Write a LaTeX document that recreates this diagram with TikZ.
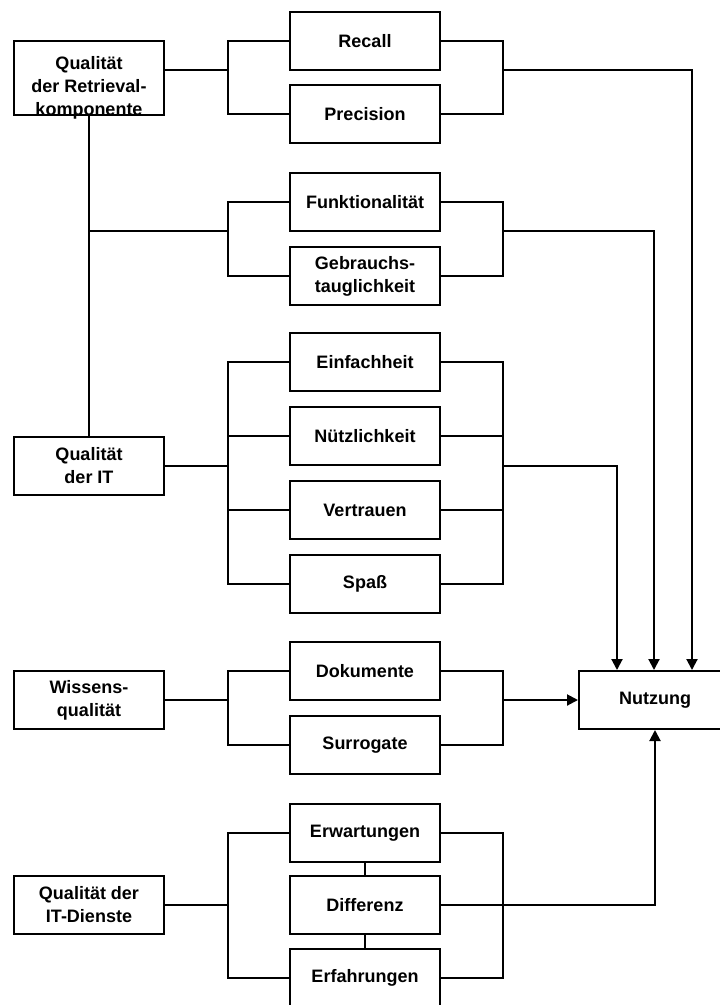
\documentclass[tikz,border=0pt]{standalone}
\usepackage{fontspec}
\setmainfont{Liberation Sans}
\usetikzlibrary{arrows.meta}
\begin{document}
\begin{tikzpicture}[x=1pt,y=-1pt,
  txt/.style={font=\bfseries\fontsize{18}{23}\selectfont, align=center, inner sep=0pt},
  box/.style={txt, draw, line width=2pt, minimum width=150pt, minimum height=58pt},
  wire/.style={line width=2pt, line join=miter},
  arr/.style={wire, -{Triangle[length=11pt,width=11pt]}}]
\useasboundingbox (0,0) rectangle (720,1005);
\clip (0,0) rectangle (720,1005);

% left column: the quality dimensions
\node[box, minimum height=74pt] (qr) at (89,78) {};
\node[txt] (qrtext) at (89,88) {Qualität\\der Retrieval-\\komponente};
\node[box] (qit) at (89,466) {Qualität\\der IT};
\node[box] (wq) at (89,700) {Wissens-\\qualität};
\node[box] (qitd) at (89,905) {Qualität der\\IT-Dienste};

% middle column: the individual factors
\node[box] (recall) at (365,41) {Recall};
\node[box] (prec) at (365,114) {Precision};
\node[box] (funk) at (365,202) {Funktionalität};
\node[box] (gebr) at (365,276) {Gebrauchs-\\tauglichkeit};
\node[box] (einf) at (365,362) {Einfachheit};
\node[box] (nuetz) at (365,436) {Nützlichkeit};
\node[box] (vertr) at (365,510) {Vertrauen};
\node[box] (spass) at (365,584) {Spaß};
\node[box] (doku) at (365,671) {Dokumente};
\node[box] (surr) at (365,745) {Surrogate};
\node[box] (erw) at (365,833) {Erwartungen};
\node[box] (diff) at (365,905) {Differenz};
\node[box] (erf) at (365,978) {Erfahrungen};

% target
\node[box, minimum width=152pt] (nutz) at (655,700) {Nutzung};

% left brackets
\draw[wire] (qr.east |- 0,70) -- (228,70);
\draw[wire] (recall.west) -- (228,41) |- (prec.west);
\draw[wire] (qr.south) -- (qit.north);
\draw[wire] (qr.south |- 0,231) -- (228,231);
\draw[wire] (funk.west) -- (228,202) |- (gebr.west);
\draw[wire] (qit.east) -- (228,466);
\draw[wire] (einf.west) -- (228,362) |- (spass.west);
\draw[wire] (nuetz.west) -- (228,436);
\draw[wire] (vertr.west) -- (228,510);
\draw[wire] (wq.east) -- (228,700);
\draw[wire] (doku.west) -- (228,671) |- (surr.west);
\draw[wire] (qitd.east) -- (228,905);
\draw[wire] (erw.west) -- (228,833) |- (erf.west);
\draw[wire] (erw.south) -- (diff.north);
\draw[wire] (diff.south) -- (erf.north);

% right brackets
\draw[wire] (recall.east) -- (503,41) |- (prec.east);
\draw[wire] (funk.east) -- (503,202) |- (gebr.east);
\draw[wire] (einf.east) -- (503,362) |- (spass.east);
\draw[wire] (nuetz.east) -- (503,436);
\draw[wire] (vertr.east) -- (503,510);
\draw[wire] (doku.east) -- (503,671) |- (surr.east);
\draw[wire] (erw.east) -- (503,833) |- (erf.east);

% arrows into the target
\draw[arr] (503,70) -| (nutz.north -| 692,0);
\draw[arr] (503,231) -| (nutz.north -| 654,0);
\draw[arr] (503,466) -| (nutz.north -| 617,0);
\draw[arr] (503,700) -- (nutz.west);
\draw[arr] (diff.east) -| (nutz.south);
\end{tikzpicture}
\end{document}
